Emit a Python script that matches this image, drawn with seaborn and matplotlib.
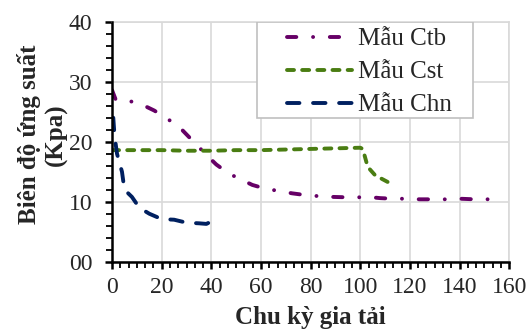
import numpy as np
import pandas as pd
import matplotlib
matplotlib.use("Agg")
import matplotlib.pyplot as plt
import seaborn as sns
from matplotlib.ticker import MultipleLocator, FixedLocator, FixedFormatter
from matplotlib.patches import Rectangle

# datos
ctb_x = [0, 1.5, 7, 12.5, 17, 22, 27, 30.5, 34.5, 38.5, 42, 47, 52.5, 56.5, 61.5, 67, 72.5,
         78, 84, 89, 97.6, 103, 108, 113, 119, 124, 130, 135, 140, 146, 151, 156]
ctb_y = [28.6, 27.0, 26.8, 26.1, 25.2, 23.9, 22.5, 21.0, 19.3, 17.6, 16.2, 14.7, 13.6, 12.8, 12.2, 11.8, 11.4,
         11.1, 10.9, 10.8, 10.7, 10.8, 10.6, 10.5, 10.5, 10.4, 10.4, 10.4, 10.5, 10.4, 10.4, 10.5]

cst_x = [0, 10, 20, 30, 40, 50, 60, 70, 80, 90, 100, 101, 103, 106, 111]
cst_y = [18.6, 18.6, 18.6, 18.5, 18.5, 18.6, 18.6, 18.7, 18.8, 18.9, 19.0, 18.8, 15.8, 14.4, 13.3]

chn_x = [0.5, 1, 2, 4, 5, 8, 11, 15, 20, 25, 30, 35, 38, 40]
chn_y = [24.0, 21.0, 18.0, 15.0, 12.0, 10.8, 9.0, 8.0, 7.1, 7.0, 6.5, 6.4, 6.3, 6.7]

nombres = ["Mẫu Ctb", "Mẫu Cst", "Mẫu Chn"]
colores = ["#660066", "#4a7d12", "#002060"]
guiones = [(2.4, 4.3, 0.01, 4.3), (1.8, 2.1), (3.2, 3.5)]

y_ticks = [0, 10, 20, 30, 40]
y_labels = ["00", "10", "20", "30", "40"]
x_ticks = [0, 20, 40, 60, 80, 100, 120, 140, 160]

sns.set_theme(style="white")
plt.rcParams['font.family'] = ['Liberation Serif', 'DejaVu Serif']

fig = plt.figure(figsize=(5.31, 3.30), dpi=100)
ax = fig.add_axes([0.211, 0.207, 0.748, 0.727])

series = [(ctb_x, ctb_y), (cst_x, cst_y), (chn_x, chn_y)]
for (xs, ys), nom, col in zip(series, nombres, colores):
    df = pd.DataFrame({"x": xs, "y": ys})
    sns.lineplot(data=df, x="x", y="y", ax=ax, color=col, linewidth=2.8, label=nom,
                 sort=False, zorder=3)
for linea, gu in zip(ax.get_lines(), guiones):
    linea.set_dashes(gu)
    linea.set_dash_capstyle('round')

ax.set_xlim(0, 160)
ax.set_ylim(0, 40)
ax.xaxis.set_major_locator(FixedLocator(x_ticks))
ax.xaxis.set_minor_locator(MultipleLocator(20 / 6))
ax.yaxis.set_major_locator(FixedLocator(y_ticks))
ax.yaxis.set_major_formatter(FixedFormatter(y_labels))
ax.yaxis.set_minor_locator(MultipleLocator(2))

ax.grid(True, which='major', color='#d9d9d9', linewidth=1.2, zorder=0)
ax.set_axisbelow(True)
for s in ['top', 'right']:
    ax.spines[s].set_color('#d9d9d9')
    ax.spines[s].set_linewidth(1.2)
for s in ['left', 'bottom']:
    ax.spines[s].set_color('black')
    ax.spines[s].set_linewidth(1.8)
    ax.spines[s].set_zorder(4)

ax.tick_params(axis='both', which='major', direction='out', length=5, width=1.8,
               color='black', labelsize=17, left=True, bottom=True)
ax.tick_params(axis='both', which='minor', direction='out', length=4, width=1.3,
               color='black', left=True, bottom=True)
ax.tick_params(axis='y', which='major', pad=9)
ax.tick_params(axis='x', which='major', pad=6)

ax.set_xlabel("Chu kỳ gia tải", fontsize=18, fontweight='bold')
ax.set_ylabel("Biên độ ứng suất\n(Kpa)", fontsize=18, fontweight='bold', linespacing=1.15)
ax.xaxis.set_label_coords(0.5, -0.185)
ax.yaxis.set_label_coords(-0.112, 0.53)

# caja de la leyenda
caja = Rectangle((0.365, 0.6), 0.545, 0.4, transform=ax.transAxes, facecolor='white',
                 edgecolor='#c0c0c0', linewidth=1.2, zorder=5)
ax.add_patch(caja)
leg = ax.legend(loc='upper left', bbox_to_anchor=(0.441, 0.975), frameon=False, fontsize=18,
                handlelength=2.6, handletextpad=0.24, borderpad=0, borderaxespad=0,
                labelspacing=0.42)
leg.set_zorder(6)

fig.savefig("out.png", dpi=100)
